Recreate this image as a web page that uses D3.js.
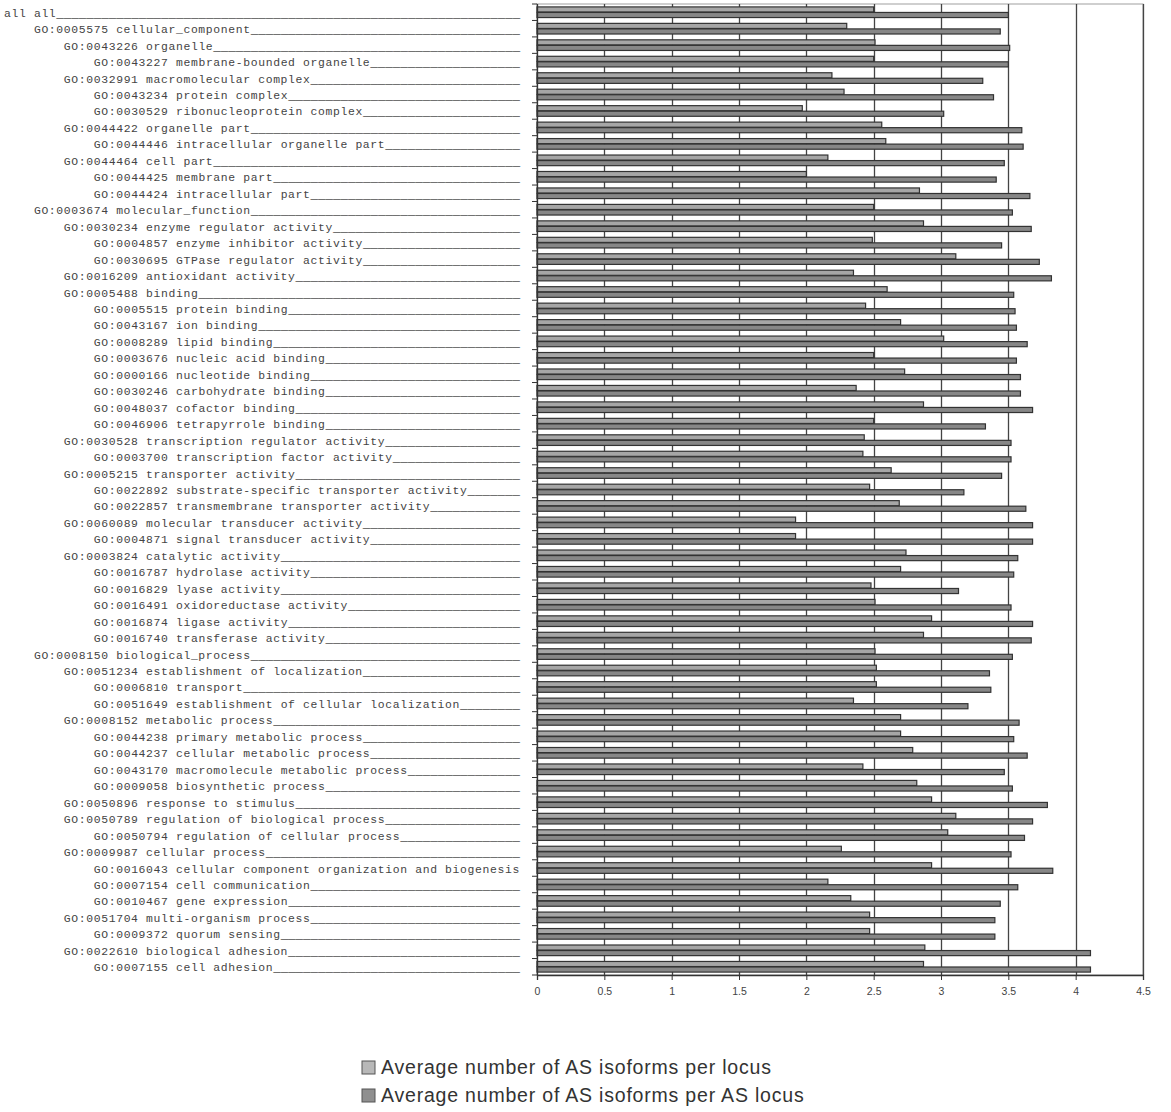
<!DOCTYPE html>
<html>
<head>
<meta charset="utf-8">
<script src="https://cdn.jsdelivr.net/npm/d3@7"></script>
<style>
  html, body { margin: 0; padding: 0; background: #ffffff; }
  svg { display: block; }
</style>
</head>
<body>
<svg id="chart" width="1171" height="1112"></svg>
<script>
// ---------------- DATA ----------------
const categories = [
  "all all",
  "GO:0005575 cellular_component",
  "GO:0043226 organelle",
  "GO:0043227 membrane-bounded organelle",
  "GO:0032991 macromolecular complex",
  "GO:0043234 protein complex",
  "GO:0030529 ribonucleoprotein complex",
  "GO:0044422 organelle part",
  "GO:0044446 intracellular organelle part",
  "GO:0044464 cell part",
  "GO:0044425 membrane part",
  "GO:0044424 intracellular part",
  "GO:0003674 molecular_function",
  "GO:0030234 enzyme regulator activity",
  "GO:0004857 enzyme inhibitor activity",
  "GO:0030695 GTPase regulator activity",
  "GO:0016209 antioxidant activity",
  "GO:0005488 binding",
  "GO:0005515 protein binding",
  "GO:0043167 ion binding",
  "GO:0008289 lipid binding",
  "GO:0003676 nucleic acid binding",
  "GO:0000166 nucleotide binding",
  "GO:0030246 carbohydrate binding",
  "GO:0048037 cofactor binding",
  "GO:0046906 tetrapyrrole binding",
  "GO:0030528 transcription regulator activity",
  "GO:0003700 transcription factor activity",
  "GO:0005215 transporter activity",
  "GO:0022892 substrate-specific transporter activity",
  "GO:0022857 transmembrane transporter activity",
  "GO:0060089 molecular transducer activity",
  "GO:0004871 signal transducer activity",
  "GO:0003824 catalytic activity",
  "GO:0016787 hydrolase activity",
  "GO:0016829 lyase activity",
  "GO:0016491 oxidoreductase activity",
  "GO:0016874 ligase activity",
  "GO:0016740 transferase activity",
  "GO:0008150 biological_process",
  "GO:0051234 establishment of localization",
  "GO:0006810 transport",
  "GO:0051649 establishment of cellular localization",
  "GO:0008152 metabolic process",
  "GO:0044238 primary metabolic process",
  "GO:0044237 cellular metabolic process",
  "GO:0043170 macromolecule metabolic process",
  "GO:0009058 biosynthetic process",
  "GO:0050896 response to stimulus",
  "GO:0050789 regulation of biological process",
  "GO:0050794 regulation of cellular process",
  "GO:0009987 cellular process",
  "GO:0016043 cellular component organization and biogenesis",
  "GO:0007154 cell communication",
  "GO:0010467 gene expression",
  "GO:0051704 multi-organism process",
  "GO:0009372 quorum sensing",
  "GO:0022610 biological adhesion",
  "GO:0007155 cell adhesion"
];

// hierarchy depth of each category (drives the label indentation)
const levels = [
  0,1,2,3,2,3,3,2,3,2,3,3,
  1,2,3,3,2,2,3,3,3,3,3,3,3,3,2,3,2,3,3,2,3,2,3,3,3,3,3,
  1,2,3,3,2,3,3,3,3,2,2,3,2,3,3,3,2,3,2,3
];

const seriesNames = [
  "Average number of AS isoforms per locus",
  "Average number of AS isoforms per AS locus"
];

const perLocus = [
  2.50,2.30,2.51,2.50,2.19,2.28,1.97,2.56,2.59,2.16,2.00,2.84,
  2.50,2.87,2.49,3.11,2.35,2.60,2.44,2.70,3.02,2.50,2.73,2.37,2.87,2.50,2.43,2.42,2.63,2.47,2.69,1.92,1.92,2.74,2.70,2.48,2.51,2.93,2.87,
  2.51,2.52,2.52,2.35,2.70,2.70,2.79,2.42,2.82,2.93,3.11,3.05,2.26,2.93,2.16,2.33,2.47,2.47,2.88,2.87
];

const perASLocus = [
  3.50,3.44,3.51,3.50,3.31,3.39,3.02,3.60,3.61,3.47,3.41,3.66,
  3.53,3.67,3.45,3.73,3.82,3.54,3.55,3.56,3.64,3.56,3.59,3.59,3.68,3.33,3.52,3.52,3.45,3.17,3.63,3.68,3.68,3.57,3.54,3.13,3.52,3.68,3.67,
  3.53,3.36,3.37,3.20,3.58,3.54,3.64,3.47,3.53,3.79,3.68,3.62,3.52,3.83,3.57,3.44,3.40,3.40,4.11,4.11
];

const xTicks = [0, 0.5, 1, 1.5, 2, 2.5, 3, 3.5, 4, 4.5];
const xTickLabels = ["0", "0.5", "1", "1.5", "2", "2.5", "3", "3.5", "4", "4.5"];

// ---------------- LAYOUT ----------------
const svg = d3.select("#chart");
const plot = { left: 537, right: 1143, top: 4, bottom: 975 };
const labelLeft = 4;
const charW = 7.48;         // advance of one monospace cell
const lineChars = 69;       // fixed label width in characters (padded with "_")
const glyphSize = 11.4;     // label font size (advance 0.6em, rest is letter spacing)

const rows = categories.map((c, i) => ({
  name: c, level: levels[i], values: [perLocus[i], perASLocus[i]]
}));

const x = d3.scaleLinear().domain([0, 4.5]).range([plot.left, plot.right]);
const y0 = d3.scaleBand().domain(categories).range([plot.top, plot.bottom])
  .paddingInner(0.3).paddingOuter(0.15);
const y1 = d3.scaleBand().domain([0, 1]).range([0, y0.bandwidth()]).padding(0.08);
const fills = ["#a6a6a6", "#878787"];

// plot frame
svg.append("rect")
  .attr("x", plot.left).attr("y", plot.top)
  .attr("width", plot.right - plot.left).attr("height", plot.bottom - plot.top)
  .attr("fill", "#ffffff").attr("stroke", "#a0a0a0").attr("stroke-width", 1);

// vertical grid lines
svg.append("g").selectAll("line").data(xTicks.slice(1)).join("line")
  .attr("x1", d => Math.round(x(d)) + 0.5).attr("x2", d => Math.round(x(d)) + 0.5)
  .attr("y1", plot.top).attr("y2", plot.bottom)
  .attr("stroke", "#444").attr("stroke-width", 1.3);

// bars
const groups = svg.append("g").selectAll("g").data(rows).join("g")
  .attr("transform", d => `translate(0,${y0(d.name)})`);
groups.selectAll("rect").data(d => d.values.map((v, k) => ({ v, k }))).join("rect")
  .attr("x", x(0))
  .attr("y", d => y1(d.k))
  .attr("width", d => x(d.v) - x(0))
  .attr("height", y1.bandwidth())
  .attr("fill", d => fills[d.k])
  .attr("stroke", "#333")
  .attr("stroke-width", 1.2);

// category axis (left, with ticks between categories)
const step = y0.step();
const boundaries = d3.range(categories.length + 1).map(i => plot.top + i * step);
svg.append("line")
  .attr("x1", plot.left + 0.5).attr("x2", plot.left + 0.5)
  .attr("y1", plot.top).attr("y2", plot.bottom)
  .attr("stroke", "#333").attr("stroke-width", 1.3);
svg.append("g").selectAll("line").data(boundaries).join("line")
  .attr("x1", plot.left - 5).attr("x2", plot.left)
  .attr("y1", d => d).attr("y2", d => d)
  .attr("stroke", "#333").attr("stroke-width", 1);

// category labels: indented, padded with underscores to a fixed width
const labels = svg.append("g")
  .attr("font-family", "'Liberation Mono', 'DejaVu Sans Mono', monospace")
  .selectAll("text").data(rows).join("text")
  .attr("x", d => labelLeft + d.level * 4 * charW)
  .attr("y", d => y0(d.name) + y0.bandwidth() / 2 + 4.5)
  .attr("fill", "#444");
labels.append("tspan")
  .attr("font-size", glyphSize + "px")
  .attr("letter-spacing", (charW - 0.6 * glyphSize).toFixed(2) + "px")
  .text(d => d.name);
labels.append("tspan")
  .attr("font-size", (charW / 0.6).toFixed(2) + "px")
  .attr("fill", "#333")
  .text(d => "_".repeat(Math.max(0, lineChars - 4 * d.level - d.name.length)));

// x axis
const xAxis = d3.axisBottom(x).tickValues(xTicks)
  .tickFormat((d, i) => xTickLabels[i]).tickSize(5).tickPadding(8);
const gx = svg.append("g").attr("transform", `translate(0,${plot.bottom})`).call(xAxis);
gx.select(".domain").attr("stroke", "#333").attr("stroke-width", 1.3);
gx.selectAll(".tick line").attr("stroke", "#333");
gx.selectAll(".tick text")
  .attr("font-family", "'Liberation Sans', Arial, sans-serif")
  .attr("font-size", "10.5px").attr("fill", "#444");

// legend
const legend = svg.append("g").selectAll("g").data(seriesNames).join("g")
  .attr("transform", (d, i) => `translate(362,${1061 + i * 28})`);
legend.append("rect")
  .attr("width", 13).attr("height", 13)
  .attr("fill", (d, i) => i === 0 ? "#b8b8b8" : "#8f8f8f")
  .attr("stroke", "#555").attr("stroke-width", 1);
legend.append("text")
  .attr("x", 19).attr("y", 13)
  .attr("font-family", "'Liberation Sans', Arial, sans-serif")
  .attr("font-size", "19.5px").attr("fill", "#333")
  .attr("letter-spacing", "0.8px")
  .text(d => d);
</script>
</body>
</html>
